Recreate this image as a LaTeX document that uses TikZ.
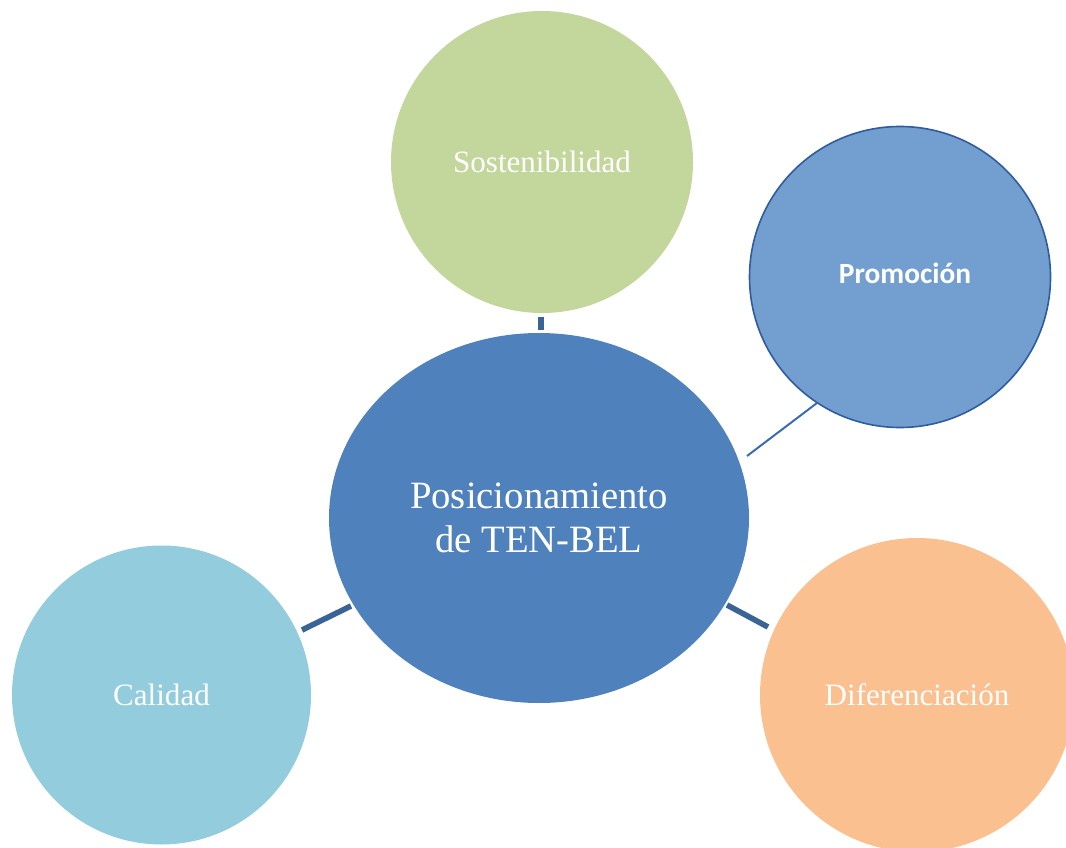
\documentclass[tikz,border=0pt]{standalone}
\usepackage{fontspec}
\setmainfont{Liberation Serif}
\newfontfamily\labelsans{Carlito}
\definecolor{coreblue}{HTML}{4F81BD}
\definecolor{sostgreen}{HTML}{C3D69B}
\definecolor{promoblue}{HTML}{729FCF}
\definecolor{promoedge}{HTML}{2F5C9E}
\definecolor{calcyan}{HTML}{93CDDD}
\definecolor{difpeach}{HTML}{FAC090}
\definecolor{linkblue}{HTML}{3A6496}
\definecolor{thinlink}{HTML}{3B6CB0}
\begin{document}
\begin{tikzpicture}[x=0.75pt,y=-0.75pt,
  bubble/.style={circle,inner sep=0pt,text=white,font=\fontsize{23.3}{26}\selectfont},
  link/.style={draw=linkblue,line width=4.2pt},
  thinlinkstyle/.style={draw=thinlink,line width=1.5pt}]
\useasboundingbox (0,0) rectangle (1066,848);
\clip (0,0) rectangle (1066,848);
% central ellipse
\fill[coreblue] (539,518) ellipse [x radius=210, y radius=185];
\node[text=white,align=center,font=\fontsize{29}{32.5}\selectfont] (core) at (539,518) {Posicionamiento\\de TEN-BEL};
% surrounding bubbles
\node[bubble,fill=sostgreen,minimum size=302*0.75pt] (sost) at (542,162) {Sostenibilidad};
\node[bubble,fill=promoblue,draw=promoedge,line width=1.2pt,minimum size=301*0.75pt] (promo) at (900,277) {};
\node[text=white,inner sep=0pt,font=\labelsans\bfseries\fontsize{22}{26}\selectfont] (promotext) at (905,273) {Promoci\'on};
\node[bubble,fill=calcyan,minimum size=299*0.75pt] (cal) at (161.5,695) {Calidad};
\node[bubble,fill=difpeach,minimum size=314*0.75pt] (dif) at (917,695) {Diferenciaci\'on};
% short connector segments in the gaps
\coordinate (s1) at (541,317); \coordinate (s2) at (541,330);
\coordinate (c1) at (351,606); \coordinate (c2) at (302,630);
\coordinate (d1) at (727,605); \coordinate (d2) at (768,627);
\coordinate (p1) at (747,456); \coordinate (p2) at (817,403);
\draw[link] (s1) -- (s2);
\draw[link] (c1) -- (c2);
\draw[link] (d1) -- (d2);
\draw[thinlinkstyle] (p1) -- (p2);
\end{tikzpicture}
\end{document}
